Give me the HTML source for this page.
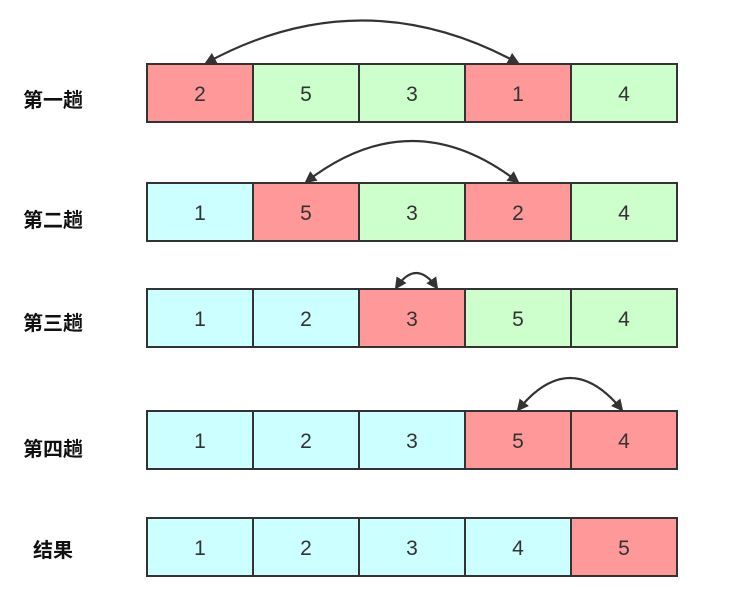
<!DOCTYPE html>
<html><head><meta charset="utf-8"><style>
body{margin:0;background:#fff;}
svg text{font-family:"Liberation Sans","Noto Sans CJK SC",sans-serif;}
</style></head><body>
<svg width="742" height="598" viewBox="0 0 742 598" xmlns="http://www.w3.org/2000/svg">
<defs><marker id="a" markerWidth="12" markerHeight="12" refX="10" refY="6" orient="auto-start-reverse" markerUnits="userSpaceOnUse"><path d="M0,0 L12,6 L0,12 Z" fill="#333"/></marker></defs>
<g stroke="#333" stroke-width="2">
<rect x="147" y="64" width="106" height="58" fill="#ff9999"/>
<rect x="253" y="64" width="106" height="58" fill="#ccffcc"/>
<rect x="359" y="64" width="106" height="58" fill="#ccffcc"/>
<rect x="465" y="64" width="106" height="58" fill="#ff9999"/>
<rect x="571" y="64" width="106" height="58" fill="#ccffcc"/>
<rect x="147" y="183" width="106" height="58" fill="#ccffff"/>
<rect x="253" y="183" width="106" height="58" fill="#ff9999"/>
<rect x="359" y="183" width="106" height="58" fill="#ccffcc"/>
<rect x="465" y="183" width="106" height="58" fill="#ff9999"/>
<rect x="571" y="183" width="106" height="58" fill="#ccffcc"/>
<rect x="147" y="289" width="106" height="58" fill="#ccffff"/>
<rect x="253" y="289" width="106" height="58" fill="#ccffff"/>
<rect x="359" y="289" width="106" height="58" fill="#ff9999"/>
<rect x="465" y="289" width="106" height="58" fill="#ccffcc"/>
<rect x="571" y="289" width="106" height="58" fill="#ccffcc"/>
<rect x="147" y="411" width="106" height="58" fill="#ccffff"/>
<rect x="253" y="411" width="106" height="58" fill="#ccffff"/>
<rect x="359" y="411" width="106" height="58" fill="#ccffff"/>
<rect x="465" y="411" width="106" height="58" fill="#ff9999"/>
<rect x="571" y="411" width="106" height="58" fill="#ff9999"/>
<rect x="147" y="518" width="106" height="58" fill="#ccffff"/>
<rect x="253" y="518" width="106" height="58" fill="#ccffff"/>
<rect x="359" y="518" width="106" height="58" fill="#ccffff"/>
<rect x="465" y="518" width="106" height="58" fill="#ccffff"/>
<rect x="571" y="518" width="106" height="58" fill="#ff9999"/>
</g>
<g fill="none" stroke="#333" stroke-width="2.2">
<path d="M206,63 Q362,-22 518,63" marker-start="url(#a)" marker-end="url(#a)"/>
<path d="M306,182 Q412,100 518,182" marker-start="url(#a)" marker-end="url(#a)"/>
<path d="M396,288 Q416,258 437,288" marker-start="url(#a)" marker-end="url(#a)"/>
<path d="M518,410 Q570,346 622,410" marker-start="url(#a)" marker-end="url(#a)"/>
</g>
<g font-size="21" fill="#333" text-anchor="middle">
<text x="200" y="101">2</text><text x="306" y="101">5</text><text x="412" y="101">3</text><text x="518" y="101">1</text><text x="624" y="101">4</text>
<text x="200" y="220">1</text><text x="306" y="220">5</text><text x="412" y="220">3</text><text x="518" y="220">2</text><text x="624" y="220">4</text>
<text x="200" y="326">1</text><text x="306" y="326">2</text><text x="412" y="326">3</text><text x="518" y="326">5</text><text x="624" y="326">4</text>
<text x="200" y="448">1</text><text x="306" y="448">2</text><text x="412" y="448">3</text><text x="518" y="448">5</text><text x="624" y="448">4</text>
<text x="200" y="555">1</text><text x="306" y="555">2</text><text x="412" y="555">3</text><text x="518" y="555">4</text><text x="624" y="555">5</text>
</g>
<g font-size="20" font-weight="bold" fill="#111" text-anchor="middle">
<text x="53" y="107">第一趟</text>
<text x="53" y="227">第二趟</text>
<text x="53" y="330">第三趟</text>
<text x="53" y="456">第四趟</text>
<text x="53" y="557">结果</text>
</g>
</svg>
</body></html>
